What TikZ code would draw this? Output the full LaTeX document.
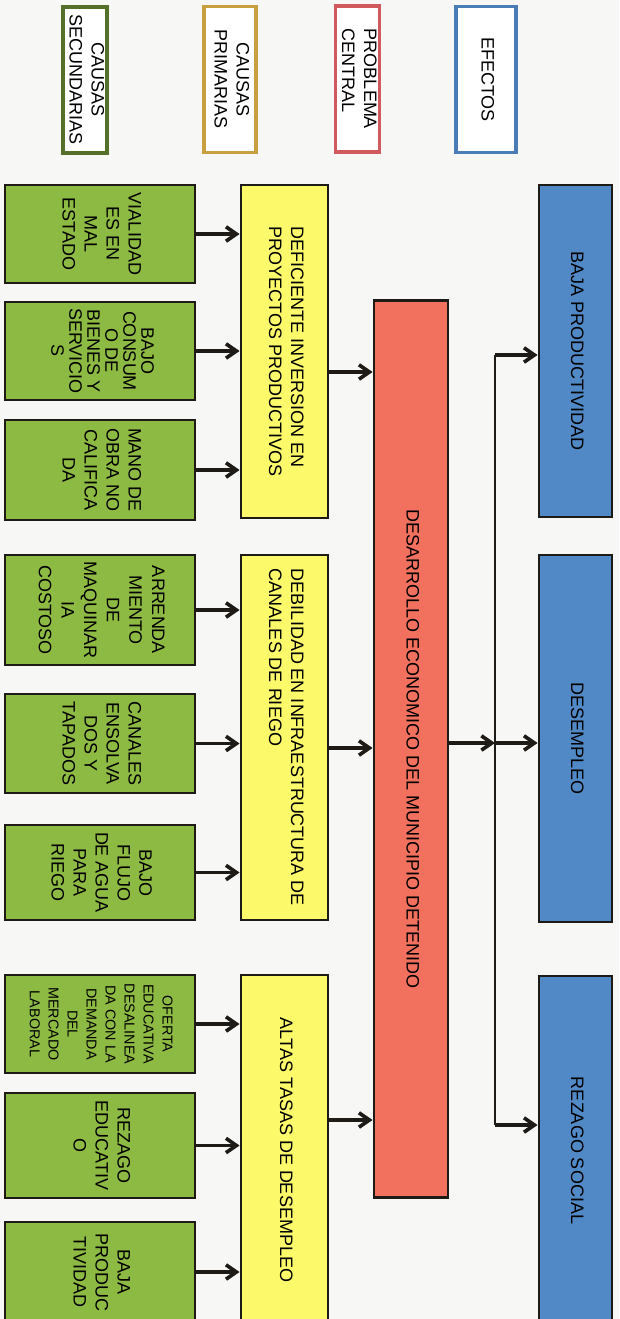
\documentclass[tikz,border=0pt]{standalone}
\usepackage{fontspec}
\setmainfont{Liberation Sans}
\usepackage{graphicx}
\usetikzlibrary{arrows.meta}

\definecolor{paper}{HTML}{F7F7F5}
\definecolor{secgreen}{HTML}{8DBA43}
\definecolor{primyellow}{HTML}{FCF96A}
\definecolor{centred}{HTML}{F2705E}
\definecolor{effblue}{HTML}{5089C6}
\definecolor{hdgreen}{HTML}{55702A}
\definecolor{hdgold}{HTML}{C8A040}
\definecolor{hdred}{HTML}{D05A5E}
\definecolor{hdblue}{HTML}{4A7DB5}
\definecolor{ink}{HTML}{1E1A16}

% text turned to read downwards
\newcommand{\rot}[2][c]{\rotatebox{-90}{\begin{tabular}{@{}#1@{}}#2\end{tabular}}}

\tikzset{
  box/.style={draw=ink, line width=2pt, inner sep=0pt, text=black,
    font={\fontsize{12.8}{15.6}\selectfont}},
  secbox/.style={box, fill=secgreen, minimum width=4.75cm},
  primbox/.style={box, fill=primyellow, minimum width=2.175cm},
  centbox/.style={box, fill=centred, minimum width=1.85cm},
  effbox/.style={box, fill=effblue, minimum width=1.825cm},
  headbox/.style={fill=white, line width=2.4pt, inner sep=0pt, minimum height=3.65cm,
    font={\fontsize{12.8}{15.6}\selectfont}},
  arr/.style={draw=ink, line width=2.6pt, -{Straight Barb[length=2.6mm,width=3.6mm]}},
  busline/.style={draw=ink, line width=1.5pt},
}

\begin{document}
\begin{tikzpicture}[x=0.025cm, y=-0.025cm]
    %%%%% START %%%%%

    \fill[paper] (0,0) rectangle (619,1319);
    \useasboundingbox (0,0) rectangle (619,1319);

    % headings
    \node[headbox, draw=hdgreen, minimum width=1.0cm] (hsec) at (85,80) {\rot{CAUSAS\\SECUNDARIAS}};
    \node[headbox, draw=hdgold, minimum width=1.3cm] (hprim) at (230,79.5) {\rot{CAUSAS\\PRIMARIAS}};
    \node[headbox, draw=hdred, minimum width=1.025cm] (hcent) at (357.5,79) {\rot[l]{PROBLEMA\\CENTRAL}};
    \node[headbox, draw=hdblue, minimum width=1.5cm] (heff) at (486,79.5) {\rot{EFECTOS}};

    % causas secundarias
    \node[secbox, minimum height=2.45cm] (g1) at (100,234) {\rot{VIALIDAD\\ES EN\\MAL\\ESTADO}};
    \node[secbox, minimum height=2.45cm, font={\fontsize{12.8}{12.8}\selectfont}] (g2) at (100,351) {\rot{BAJO\\CONSUM\\O DE\\BIENES Y\\SERVICIO\\S}};
    \node[secbox, minimum height=2.5cm] (g3) at (100,470) {\rot{MANO DE\\OBRA NO\\CALIFICA\\DA}};
    \node[secbox, minimum height=2.75cm, font={\fontsize{12.8}{16.1}\selectfont}] (g4) at (100,610) {\rot{ARRENDA\\MIENTO\\DE\\MAQUINAR\\IA\\COSTOSO}};
    \node[secbox, minimum height=2.475cm] (g5) at (100,743.5) {\rot{CANALES\\ENSOLVA\\DOS Y\\TAPADOS}};
    \node[secbox, minimum height=2.375cm] (g6) at (100,872.5) {\rot{BAJO\\FLUJO\\DE AGUA\\PARA\\RIEGO}};
    \node[secbox, minimum height=2.45cm, font={\fontsize{10.2}{13.5}\selectfont}] (g7) at (100,1024) {\rot{OFERTA\\EDUCATIVA\\DESALINEA\\DA CON LA\\DEMANDA\\DEL\\MERCADO\\LABORAL}};
    \node[secbox, minimum height=2.625cm] (g8) at (100,1145.5) {\rot{REZAGO\\EDUCATIV\\O}};
    \node[secbox, minimum height=2.5cm] (g9) at (100,1272) {\rot{BAJA\\PRODUC\\TIVIDAD}};

    % causas primarias
    \node[primbox, minimum height=8.325cm] (y1) at (284.5,351.5) {\rot[l]{DEFICIENTE INVERSION EN\\PROYECTOS PRODUCTIVOS}};
    \node[primbox, minimum height=9.125cm] (y2) at (284.5,737.5) {\rot[l]{DEBILIDAD EN INFRAESTRUCTURA DE\\CANALES DE RIEGO}};
    \node[primbox, minimum height=8.75cm] (y3) at (284.5,1150) {\rot[l]{ALTAS TASAS DE DESEMPLEO\hspace{1.7cm}}};

    % problema central
    \node[centbox, minimum height=22.4cm] (cent) at (411,749) {\rot{DESARROLLO ECONOMICO DEL MUNICIPIO DETENIDO}};

    % efectos
    \node[effbox, minimum height=8.3cm] (b1) at (575.5,351) {\rot{BAJA PRODUCTIVIDAD}};
    \node[effbox, minimum height=9.175cm] (b2) at (575.5,738.5) {\rot{DESEMPLEO}};
    \node[effbox, minimum height=8.725cm] (b3) at (575.5,1150.5) {\rot{REZAGO SOCIAL}};

    % secundarias -> primarias
    \foreach \g/\p in {g1/y1, g2/y1, g3/y1, g4/y2, g5/y2, g6/y2, g7/y3, g8/y3, g9/y3}
        \draw[arr] (\g.east) -- (\g.east -| \p.west);

    % primarias -> problema
    \draw[arr] (y1.east |- 0,372) -- (cent.west |- 0,372);
    \draw[arr] (y2.east |- 0,748) -- (cent.west |- 0,748);
    \draw[arr] (y3.east |- 0,1120) -- (cent.west |- 0,1120);

    % problema -> efectos
    \coordinate (bustop) at (495,355);
    \coordinate (busmid) at (495,743);
    \coordinate (busbot) at (495,1125);
    \draw[busline] (bustop) -- (busbot);
    \draw[arr] (cent.east |- busmid) -- (busmid);
    \draw[arr] (bustop) -- (bustop -| b1.west);
    \draw[arr] (busmid) -- (busmid -| b2.west);
    \draw[arr] (busbot) -- (busbot -| b3.west);

    %%%%% END %%%%%
\end{tikzpicture}
\end{document}
